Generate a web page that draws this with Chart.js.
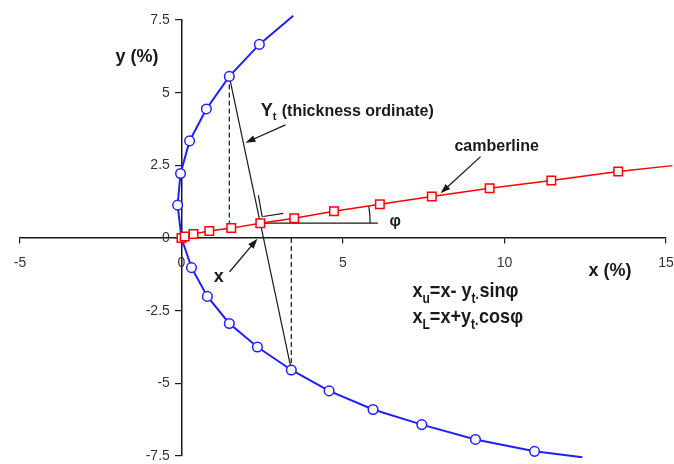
<!DOCTYPE html>
<html>
<head>
<meta charset="utf-8">
<script src="https://cdn.jsdelivr.net/npm/chart.js@4.4.1/dist/chart.umd.min.js"></script>
<style>
  html, body { margin: 0; padding: 0; background: #ffffff; }
  #wrap { width: 674px; height: 464px; }
</style>
</head>
<body>
<div id="wrap"><canvas id="airfoilChart"></canvas></div>
<script>
// upper surface (circles), from leading edge outwards
const upperX = [-0.12, -0.03, 0.25, 0.77, 1.48, 2.41];
const upperY = [1.13, 2.22, 3.34, 4.44, 5.56, 6.66];
const upperEnd = [3.46, 7.65];

// lower surface (circles)
const lowerX = [0.31, 0.80, 1.48, 2.35, 3.40, 4.57, 5.93, 7.44, 9.10, 10.93];
const lowerY = [-1.02, -2.01, -2.94, -3.75, -4.54, -5.26, -5.90, -6.42, -6.93, -7.34];
const lowerEnd = [12.41, -7.54];

// camberline (squares)
const camberX = [0, 0.1, 0.37, 0.86, 1.54, 2.44, 3.49, 4.72, 6.14, 7.75, 9.54, 11.45, 13.52];
const camberY = [0, 0.05, 0.14, 0.24, 0.34, 0.51, 0.68, 0.92, 1.16, 1.43, 1.71, 1.98, 2.29];
const camberEnd = [15.2, 2.49];

const xTicks = [-5, 0, 5, 10, 15];
const yTicks = [-7.5, -5, -2.5, 0, 2.5, 5, 7.5];

// build the surface as one continuous curve: top end -> leading edge -> bottom end
const surface = [{x: upperEnd[0], y: upperEnd[1]}];
for (let i = upperX.length - 1; i >= 0; i--) surface.push({x: upperX[i], y: upperY[i]});
surface.push({x: 0, y: 0});
lowerX.forEach((v, i) => surface.push({x: v, y: lowerY[i]}));
surface.push({x: lowerEnd[0], y: lowerEnd[1]});
const surfaceRadius = surface.map((p, i) => (i === 0 || i === surface.length - 1 || i === upperX.length + 1) ? 0 : 4.8);

const camber = camberX.map((v, i) => ({x: v, y: camberY[i]}));
camber.push({x: camberEnd[0], y: camberEnd[1]});
const camberRadius = camber.map((p, i) => i === camber.length - 1 ? 0 : 6);

// construction lines, taken from the points they join
const pU = {x: upperX[4], y: upperY[4]};       // upper point used for the example
const pL = {x: lowerX[4], y: lowerY[4]};       // matching lower point
const pC = {x: camberX[5], y: camberY[5]};     // camber point between them

const ink = '#1a1a1a';
const fontFamily = '"Liberation Sans", Arial, sans-serif';

function segment(points, dashed, width) {
    return {
        data: points,
        showLine: true,
        borderColor: ink,
        borderWidth: width || 1.2,
        borderDash: dashed ? [5, 3] : [],
        pointRadius: 0,
        clip: false
    };
}

// centred axes should not take any room from the plot
function noRoom(scale) {
    if (scale.isHorizontal()) scale.height = 0; else scale.width = 0;
    scale.paddingLeft = scale.paddingRight = scale.paddingTop = scale.paddingBottom = 0;
}

// arrows, texts and the angle arc (in data units)
const notePlugin = {
    id: 'notes',
    afterDatasetsDraw(chart) {
        const ctx = chart.ctx;
        const xs = chart.scales.x, ys = chart.scales.y;
        const px = v => xs.getPixelForValue(v);
        const py = v => ys.getPixelForValue(v);

        function arrow(x1, y1, x2, y2) {
            const ax = px(x1), ay = py(y1), bx = px(x2), by = py(y2);
            const ang = Math.atan2(by - ay, bx - ax);
            ctx.save();
            ctx.strokeStyle = ink;
            ctx.fillStyle = ink;
            ctx.lineWidth = 1.3;
            ctx.beginPath();
            ctx.moveTo(ax, ay);
            ctx.lineTo(bx - 6 * Math.cos(ang), by - 6 * Math.sin(ang));
            ctx.stroke();
            ctx.beginPath();
            ctx.moveTo(bx, by);
            ctx.lineTo(bx - 10 * Math.cos(ang) + 3.5 * Math.sin(ang), by - 10 * Math.sin(ang) - 3.5 * Math.cos(ang));
            ctx.lineTo(bx - 10 * Math.cos(ang) - 3.5 * Math.sin(ang), by - 10 * Math.sin(ang) + 3.5 * Math.cos(ang));
            ctx.closePath();
            ctx.fill();
            ctx.restore();
        }

        // text made of parts, some of them subscripts; squeeze narrows the glyphs
        function rich(parts, x, y, size, squeeze) {
            const k = squeeze || 1;
            let cx = 0;
            ctx.save();
            ctx.translate(px(x), py(y));
            ctx.scale(k, 1);
            ctx.fillStyle = ink;
            ctx.textBaseline = 'alphabetic';
            ctx.textAlign = 'left';
            parts.forEach(p => {
                const s = p.sub ? Math.round(size * 0.68) : (p.size || size);
                ctx.font = 'bold ' + s + 'px ' + fontFamily;
                ctx.fillText(p.t, cx, p.sub ? size * 0.28 : 0);
                cx += ctx.measureText(p.t).width + (p.gap || 0);
            });
            ctx.restore();
        }

        arrow(3.22, 3.89, 1.98, 3.28);
        arrow(9.26, 2.80, 8.02, 1.54);
        arrow(1.49, -1.16, 2.35, -0.03);

        // angle arc for phi
        const cxp = px(pC.x), cyp = py(pC.y);
        const r = px(pC.x + 3.4) - cxp;
        const slope = Math.atan2(py(camberY[10]) - py(camberY[4]), px(camberX[10]) - px(camberX[4]));
        ctx.save();
        ctx.strokeStyle = ink;
        ctx.lineWidth = 1.2;
        ctx.beginPath();
        ctx.arc(cxp, cyp, r, slope, 0);
        ctx.stroke();
        ctx.restore();

        rich([{t: 'Y', size: 18}, {t: 't', sub: true, gap: 1}, {t: ' (thickness ordinate)'}], 2.45, 4.2, 16);
        rich([{t: 'camberline'}], 8.45, 3.0, 16);
        rich([{t: 'φ'}], 6.44, 0.41, 16);
        rich([{t: 'x'}], 1.0, -1.5, 18);
        rich([{t: 'x (%)'}], 12.6, -1.3, 18);
        rich([{t: 'y (%)'}], -2.04, 6.05, 18);
        rich([{t: 'x'}, {t: 'u', sub: true}, {t: '=x- y'}, {t: 't·', sub: true}, {t: 'sinφ'}], 7.15, -2.03, 21, 0.86);
        rich([{t: 'x'}, {t: 'L', sub: true}, {t: '=x+y'}, {t: 't·', sub: true}, {t: 'cosφ'}], 7.15, -2.92, 21, 0.86);
    }
};

const ctx = document.getElementById('airfoilChart').getContext('2d');
const airfoilChart = new Chart(ctx, {
    type: 'scatter',
    data: {
        datasets: [{
            label: 'camberline',
            data: camber,
            showLine: true,
            borderColor: '#ff0000',
            borderWidth: 1.5,
            pointStyle: 'rect',
            pointRadius: camberRadius,
            pointBorderWidth: 1.5,
            pointBorderColor: '#ff0000',
            pointBackgroundColor: '#ffffff',
            clip: false
        }, {
            label: 'surface',
            data: surface,
            showLine: true,
            borderColor: '#1f1fff',
            borderWidth: 2,
            pointStyle: 'circle',
            pointRadius: surfaceRadius,
            pointBorderWidth: 1.5,
            pointBorderColor: '#1f1fff',
            pointBackgroundColor: '#ffffff',
            clip: false
        },
        segment([{x: pU.x, y: pU.y}, {x: pU.x, y: camberY[4]}], true),
        segment([{x: pL.x, y: 0}, {x: pL.x, y: pL.y}], true),
        segment([pU, pL]),
        segment([pC, {x: pC.x + 3.64, y: pC.y}]),
        segment([{x: 2.38, y: 1.47}, {x: 2.50, y: 0.72}]),
        segment([{x: 2.53, y: 0.74}, {x: 3.15, y: 0.85}])
        ]
    },
    options: {
        responsive: true,
        maintainAspectRatio: false,
        animation: false,
        layout: { padding: { left: 20, right: 8, top: 20, bottom: 8 } },
        plugins: {
            legend: { display: false },
            tooltip: { enabled: false }
        },
        scales: {
            x: {
                type: 'linear',
                min: -5,
                max: 15,
                position: { y: 0 },
                afterFit: noRoom,
                afterBuildTicks: function(scale) { scale.ticks = xTicks.map(v => ({value: v})); },
                grid: { drawOnChartArea: false, drawTicks: true, tickLength: 5, color: ink, lineWidth: 1.2 },
                border: { display: true, color: ink, width: 1.5 },
                ticks: {
                    color: '#333333',
                    padding: 12,
                    font: { family: fontFamily, size: 14 }
                }
            },
            y: {
                type: 'linear',
                min: -7.5,
                max: 7.5,
                position: { x: 0 },
                afterFit: noRoom,
                afterBuildTicks: function(scale) { scale.ticks = yTicks.map(v => ({value: v})); },
                grid: { drawOnChartArea: false, drawTicks: true, tickLength: 6, color: ink, lineWidth: 1.2 },
                border: { display: true, color: ink, width: 1.5 },
                ticks: {
                    color: '#333333',
                    font: { family: fontFamily, size: 14 },
                    // labels sit right-aligned on the axis line, so keep a small gap
                    callback: function(value) { return value + '   '; }
                }
            }
        }
    },
    plugins: [notePlugin]
});
</script>
</body>
</html>
